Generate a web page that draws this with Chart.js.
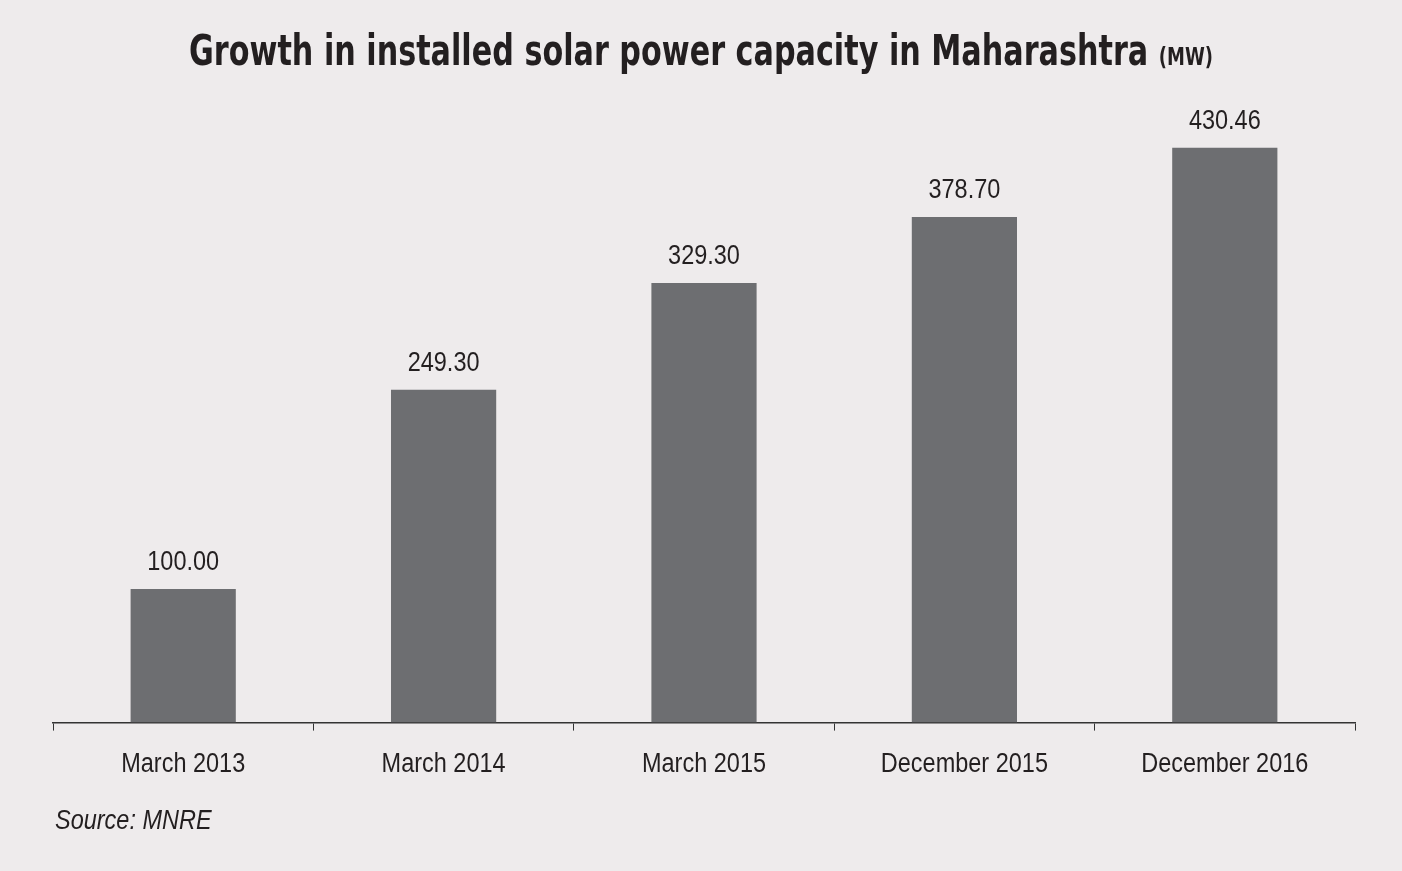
<!DOCTYPE html>
<html><head><meta charset="utf-8">
<script src="https://cdn.jsdelivr.net/npm/chart.js@4"></script>
<style>
html,body{margin:0;padding:0;background:#eeebec;width:1402px;height:871px;overflow:hidden;}
#wrap{position:absolute;left:0;top:0;width:1402px;height:871px;}
#title{position:absolute;left:0;width:1402px;top:26px;text-align:center;font-family:"DejaVu Sans Condensed","Liberation Sans",sans-serif;font-weight:bold;font-size:42px;color:#231f20;transform:scaleX(0.8);white-space:nowrap}
#title span{font-size:25px}
#src{position:absolute;left:55px;top:805px;font-family:"Liberation Sans",sans-serif;font-style:italic;font-size:27px;color:#231f20;transform:scaleX(0.87);transform-origin:left top}
</style></head><body>
<div id="wrap"><canvas id="c" width="1402" height="871"></canvas></div>
<div id="title">Growth in installed solar power capacity in Maharashtra <span>(MW)</span></div>
<div id="src">Source: MNRE</div>
<script>
const categories=["March 2013","March 2014","March 2015","December 2015","December 2016"];
const values=[100.00,249.30,329.30,378.70,430.46];
const valueLabels=["100.00","249.30","329.30","378.70","430.46"];
const SX=0.87;
function narrowText(ctx,t,x,y){ctx.save();ctx.translate(x,y);ctx.scale(SX,1);ctx.fillText(t,0,0);ctx.restore();}
const labelPlugin={id:'vl',afterDatasetsDraw(ch){const ctx=ch.ctx;const m=ch.getDatasetMeta(0);ctx.save();ctx.font='27px "Liberation Sans", sans-serif';ctx.fillStyle='#231f20';ctx.textAlign='center';ctx.textBaseline='alphabetic';
m.data.forEach((b,i)=>{narrowText(ctx,valueLabels[i],b.x,b.y-19);});
const xs=ch.scales.x;categories.forEach((c,i)=>{narrowText(ctx,c,xs.getPixelForValue(i),772);});
ctx.restore();}};
new Chart(document.getElementById('c'),{type:'bar',data:{labels:categories,datasets:[{data:values,backgroundColor:'#6d6e71',barPercentage:0.404,categoryPercentage:1}]},
options:{responsive:false,animation:false,layout:{padding:{left:53,right:47,top:55,bottom:84}},plugins:{legend:{display:false},tooltip:{enabled:false}},
scales:{y:{display:false,min:0,max:500},x:{offset:true,border:{display:true,color:'#333',width:1.5},grid:{offset:true,drawOnChartArea:false,drawTicks:true,tickLength:8,color:'#333'},ticks:{padding:12,color:'rgba(0,0,0,0)',font:{family:'"Liberation Sans", sans-serif',size:27}}}}},plugins:[labelPlugin]});
</script></body></html>
